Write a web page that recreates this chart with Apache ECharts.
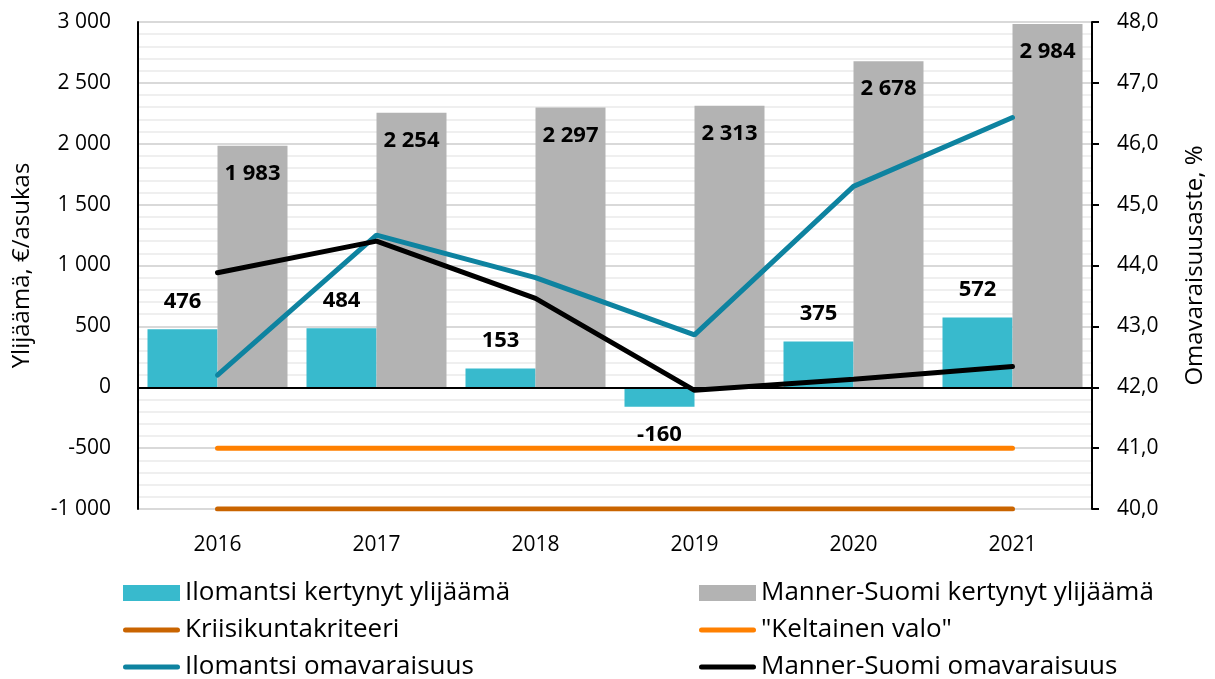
<!DOCTYPE html>
<html>
<head>
<meta charset="utf-8">
<script src="https://cdn.jsdelivr.net/npm/echarts@6/dist/echarts.min.js"></script>
<style>
  html, body { margin: 0; padding: 0; background: #fff; overflow: hidden; }
  #chart { width: 1215px; height: 679px; }
</style>
</head>
<body>
<div id="chart"></div>
<script>
const years = ['2016', '2017', '2018', '2019', '2020', '2021']
const ilomantsiSurplus = [476, 484, 153, -160, 375, 572]
const mannerSurplus = [1983, 2254, 2297, 2313, 2678, 2984]
const crisisLimit = [-1000, -1000, -1000, -1000, -1000, -1000]
const yellowLight = [-500, -500, -500, -500, -500, -500]
const ilomantsiSelf = [42.2, 44.5, 43.8, 42.86, 45.3, 46.43]
const mannerSelf = [43.88, 44.4, 43.46, 41.95, 42.13, 42.34]

const font = 'Open Sans'
const fmt = (v) => {
    const s = Math.abs(v).toString().replace(/\B(?=(\d{3})+(?!\d))/g, ' ')
    return (v < 0 ? '-' : '') + s
}

// rounded bar used as legend icon for the line series
const lineIcon = 'path://M2.5,0 H54.5 A2.5,2.5 0 0 1 54.5,5 H2.5 A2.5,2.5 0 0 1 2.5,0 Z'

const chart = echarts.init(document.getElementById('chart'))

// one legend per entry so the 2x3 layout is fixed
const legendItems = [
    { name: 'Ilomantsi kertynyt ylijäämä', icon: 'rect', left: 123, top: 580 },
    { name: 'Manner-Suomi kertynyt ylijäämä', icon: 'rect', left: 699, top: 580 },
    { name: 'Kriisikuntakriteeri', icon: lineIcon, left: 123, top: 617 },
    { name: '"Keltainen valo"', icon: lineIcon, left: 699, top: 617 },
    { name: 'Ilomantsi omavaraisuus', icon: lineIcon, left: 123, top: 654 },
    { name: 'Manner-Suomi omavaraisuus', icon: lineIcon, left: 699, top: 654 },
]

chart.setOption({
    animation: false,
    textStyle: { fontFamily: font },
    grid: { left: 138, top: 22, width: 961, height: 487, containLabel: false },
    legend: legendItems.map((it) => ({
        left: it.left,
        top: it.top,
        padding: 0,
        itemWidth: 57,
        itemHeight: 16,
        itemStyle: { borderWidth: 0 },
        textStyle: { color: '#000', fontSize: 26, fontFamily: font },
        data: [{ name: it.name, icon: it.icon }],
    })),
    xAxis: {
        type: 'category',
        data: years,
        axisLine: { show: false, onZero: false },
        axisTick: { show: false },
        axisLabel: { color: '#000', fontSize: 21, margin: 26 },
    },
    yAxis: [
        {
            type: 'value',
            min: -1000,
            max: 3000,
            interval: 500,
            name: 'Ylijäämä, €/asukas',
            nameLocation: 'middle',
            nameGap: 104,
            nameTextStyle: { color: '#000', fontSize: 24 },
            axisLine: { show: true, lineStyle: { color: '#000', width: 2 } },
            axisTick: { show: false },
            axisLabel: { color: '#000', fontSize: 21, margin: 27, formatter: fmt },
            splitLine: { lineStyle: { color: '#d9d9d9', width: 2 } },
            minorTick: { show: false, splitNumber: 5 },
            minorSplitLine: { show: true, lineStyle: { color: '#efefef', width: 2 } },
        },
        {
            type: 'value',
            min: 40,
            max: 48,
            interval: 1,
            name: 'Omavaraisuusaste, %',
            nameLocation: 'middle',
            nameGap: 91,
            nameTextStyle: { color: '#000', fontSize: 24 },
            axisLine: { show: true, lineStyle: { color: '#000', width: 2 } },
            axisTick: { show: true, length: 7, lineStyle: { color: '#000', width: 2 } },
            axisLabel: { color: '#000', fontSize: 21, margin: 25, formatter: (v) => v.toFixed(1).replace('.', ',') },
            splitLine: { show: false },
        },
    ],
    series: [
        {
            name: 'Ilomantsi kertynyt ylijäämä',
            type: 'bar',
            data: ilomantsiSurplus.map((v) => ({
                value: v,
                label: { position: v < 0 ? 'bottom' : 'top' },
            })),
            barWidth: 70,
            barGap: '0%',
            itemStyle: { color: '#38bacd' },
            label: {
                show: true,
                distance: 17,
                color: '#000',
                fontSize: 22,
                fontWeight: 'bold',
                formatter: (p) => fmt(p.value),
            },
            markLine: {
                silent: true,
                symbol: 'none',
                label: { show: false },
                lineStyle: { color: '#000', width: 2, type: 'solid' },
                data: [{ yAxis: 0 }],
            },
        },
        {
            name: 'Manner-Suomi kertynyt ylijäämä',
            type: 'bar',
            data: mannerSurplus,
            barWidth: 70,
            barGap: '0%',
            itemStyle: { color: '#b3b3b3' },
            label: {
                show: true,
                position: 'insideTop',
                distance: 17,
                color: '#000',
                fontSize: 22,
                fontWeight: 'bold',
                formatter: (p) => fmt(p.value),
            },
        },
        {
            name: 'Kriisikuntakriteeri',
            type: 'line',
            data: crisisLimit,
            symbol: 'none',
            lineStyle: { color: '#c96400', width: 5, cap: 'round' },
            itemStyle: { color: '#c96400' },
        },
        {
            name: '"Keltainen valo"',
            type: 'line',
            data: yellowLight,
            symbol: 'none',
            lineStyle: { color: '#ff8000', width: 5, cap: 'round' },
            itemStyle: { color: '#ff8000' },
        },
        {
            name: 'Ilomantsi omavaraisuus',
            type: 'line',
            yAxisIndex: 1,
            data: ilomantsiSelf,
            symbol: 'none',
            lineStyle: { color: '#0e83a0', width: 5, cap: 'round' },
            itemStyle: { color: '#0e83a0' },
        },
        {
            name: 'Manner-Suomi omavaraisuus',
            type: 'line',
            yAxisIndex: 1,
            data: mannerSelf,
            symbol: 'none',
            lineStyle: { color: '#000', width: 5, cap: 'round' },
            itemStyle: { color: '#000' },
        },
    ],
})
</script>
</body>
</html>
